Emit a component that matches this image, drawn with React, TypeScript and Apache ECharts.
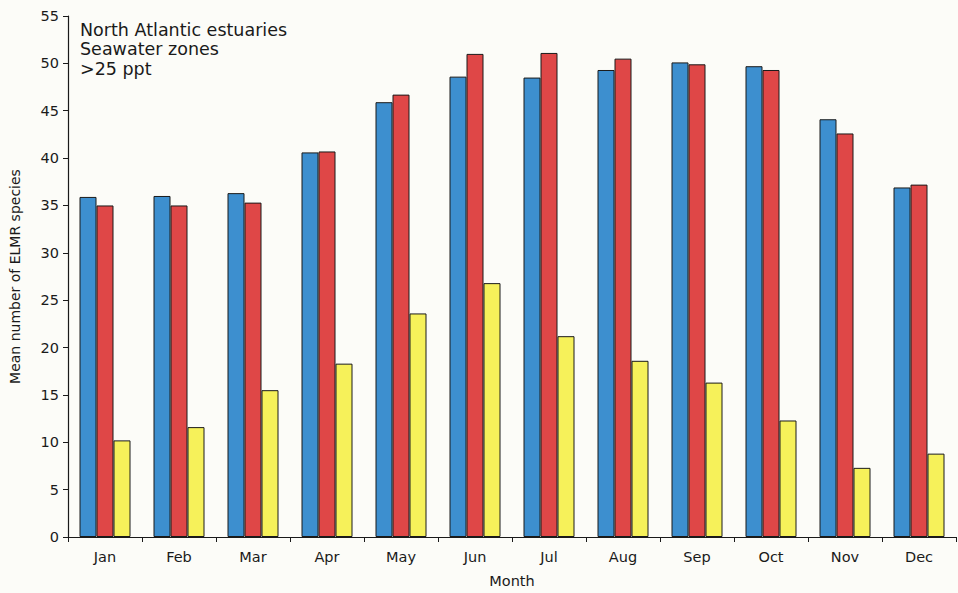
import React, { useEffect, useRef } from "react";
import * as echarts from "echarts";

const months = ["Jan", "Feb", "Mar", "Apr", "May", "Jun", "Jul", "Aug", "Sep", "Oct", "Nov", "Dec"];
const blueSeries = [35.9, 36.0, 36.3, 40.6, 45.9, 48.6, 48.5, 49.3, 50.1, 49.7, 44.1, 36.9];
const redSeries = [35.0, 35.0, 35.3, 40.7, 46.7, 51.0, 51.1, 50.5, 49.9, 49.3, 42.6, 37.2];
const yellowSeries = [10.2, 11.6, 15.5, 18.3, 23.6, 26.8, 21.2, 18.6, 16.3, 12.3, 7.3, 8.8];
const yTicks = { min: 0, max: 55, interval: 5 };
const titleLines = ["North Atlantic estuaries", "Seawater zones", ">25 ppt"];

const FONT = "'DejaVu Sans', 'Liberation Sans', Arial, sans-serif";
const INK = "#1a1a1a";

export default function App() {
  const ref = useRef<HTMLDivElement>(null);

  useEffect(() => {
    if (!ref.current) return;
    const chart = echarts.init(ref.current, null, { renderer: "svg" });

    const barStyle = (color: string) => ({
      type: "bar" as const,
      barWidth: 17,
      barGap: "0%",
      itemStyle: { color, borderColor: INK, borderWidth: 1 },
    });

    chart.setOption({
      animation: false,
      backgroundColor: "#fcfcf8",
      textStyle: { fontFamily: FONT },
      grid: { left: 62, right: 2, top: 16, bottom: 56 },
      graphic: [
        {
          type: "text",
          left: 80,
          top: 20,
          style: {
            text: titleLines.join("\n"),
            font: `17.5px ${FONT}`,
            lineHeight: 19.5,
            fill: INK,
          },
        },
      ],
      xAxis: {
        type: "category",
        data: months,
        name: "Month",
        nameLocation: "middle",
        nameGap: 36,
        nameTextStyle: { fontSize: 14.5, color: INK, fontFamily: FONT },
        axisLine: { lineStyle: { color: INK, width: 1.2 } },
        axisTick: { show: true, length: 5, lineStyle: { color: INK } },
        axisLabel: { fontSize: 14.5, color: INK, margin: 12, fontFamily: FONT },
      },
      yAxis: {
        type: "value",
        min: yTicks.min,
        max: yTicks.max,
        interval: yTicks.interval,
        name: "Mean number of ELMR species",
        nameLocation: "middle",
        nameGap: 46,
        nameTextStyle: { fontSize: 14, color: INK, fontFamily: FONT },
        axisLine: { show: true, lineStyle: { color: INK, width: 1.2 } },
        axisTick: { show: true, length: 5, lineStyle: { color: INK } },
        axisLabel: { fontSize: 14.5, color: INK, margin: 9, fontFamily: FONT },
        splitLine: { show: false },
      },
      series: [
        { ...barStyle("#3d8fcf"), name: "Blue", data: blueSeries },
        { ...barStyle("#df4747"), name: "Red", data: redSeries },
        { ...barStyle("#f6f15a"), name: "Yellow", data: yellowSeries },
      ],
    });

    return () => chart.dispose();
  }, []);

  return (
    <div
      ref={ref}
      style={{ position: "fixed", left: 0, top: 0, width: 958, height: 593 }}
    />
  );
}
